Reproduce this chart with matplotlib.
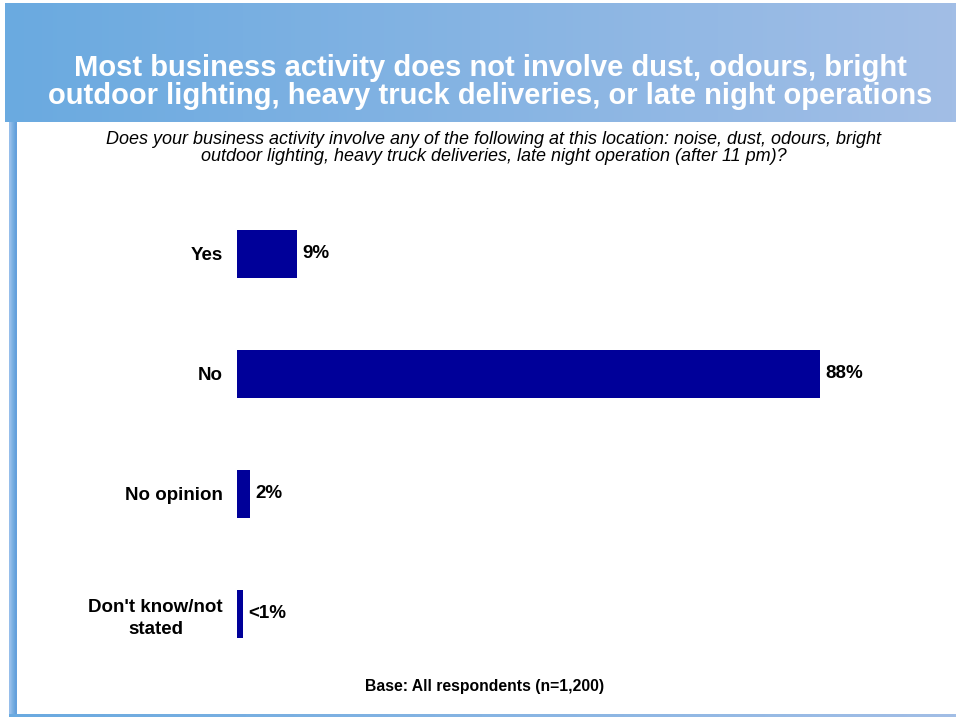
import matplotlib
matplotlib.use("Agg")
import matplotlib.pyplot as plt
import numpy as np

plt.rcParams['font.family'] = ['Liberation Sans', 'DejaVu Sans']

# survey results
categories = ["Yes", "No", "No opinion", "Don't know/not\nstated"]
values = [9, 88, 2, 0.9]
value_labels = ["9%", "88%", "2%", "<1%"]

title = ("Most business activity does not involve dust, odours, bright\n"
         "outdoor lighting, heavy truck deliveries, or late night operations")
question = ("Does your business activity involve any of the following at this location: noise, dust, odours, bright\n"
            "outdoor lighting, heavy truck deliveries, late night operation (after 11 pm)?")
base_note = "Base: All respondents (n=1,200)"

W, H = 956, 717
fig = plt.figure(figsize=(W / 100, H / 100), dpi=100)

# background layer in pixel coordinates
bg = fig.add_axes([0, 0, 1, 1], zorder=0)
bg.axis('off')

left_col = np.array([106, 170, 224]) / 255
right_col = np.array([162, 190, 230]) / 255
t = np.linspace(0, 1, 256)
grad = (left_col[None, :] * (1 - t[:, None]) + right_col[None, :] * t[:, None])[None, :, :]
bg.imshow(grad, extent=[5, W, 122, 3], aspect='auto', zorder=1)

# left edge strip and bottom rule
strip = np.array([[[150, 190, 235], [120, 175, 225], [100, 160, 220]]]) / 255
bg.imshow(strip, extent=[9, 17, H, 122], aspect='auto', zorder=1, interpolation='bilinear')
bg.imshow(grad, extent=[9, W, H, 714], aspect='auto', zorder=1)
bg.set_xlim(0, W)
bg.set_ylim(H, 0)

bg.text(490, 82, title, ha='center', va='center', color='white', fontsize=21,
        fontweight='bold', linespacing=1.0)
bg.text(494, 148, question, ha='center', va='center', color='black', fontsize=13,
        style='italic', linespacing=1.0)
bg.text(485, 687, base_note, ha='center', va='center', color='black', fontsize=11.3,
        fontweight='bold')

# bar chart
x0, px_per_pct = 237, 6.625
ax = fig.add_axes([x0 / W, (H - 674) / H, 100 * px_per_pct / W, 480 / H], zorder=2)
ax.patch.set_alpha(0)
y = np.arange(len(categories))
ax.barh(y, values, height=0.4, color='#000099')
ax.set_xlim(0, 100)
ax.set_ylim(3.5, -0.5)
for i, (v, lab) in enumerate(zip(values, value_labels)):
    ax.text(v + 0.8, i, lab, va='center', ha='left', fontsize=13.5, fontweight='bold')
ax.set_yticks(y)
ax.set_yticklabels(categories, fontsize=13.5, fontweight='bold',
                   multialignment='center', linespacing=1.35)
ax.tick_params(axis='y', length=0, pad=10)
ax.set_xticks([])
for s in ax.spines.values():
    s.set_visible(False)

fig.savefig("out.png", dpi=100)
